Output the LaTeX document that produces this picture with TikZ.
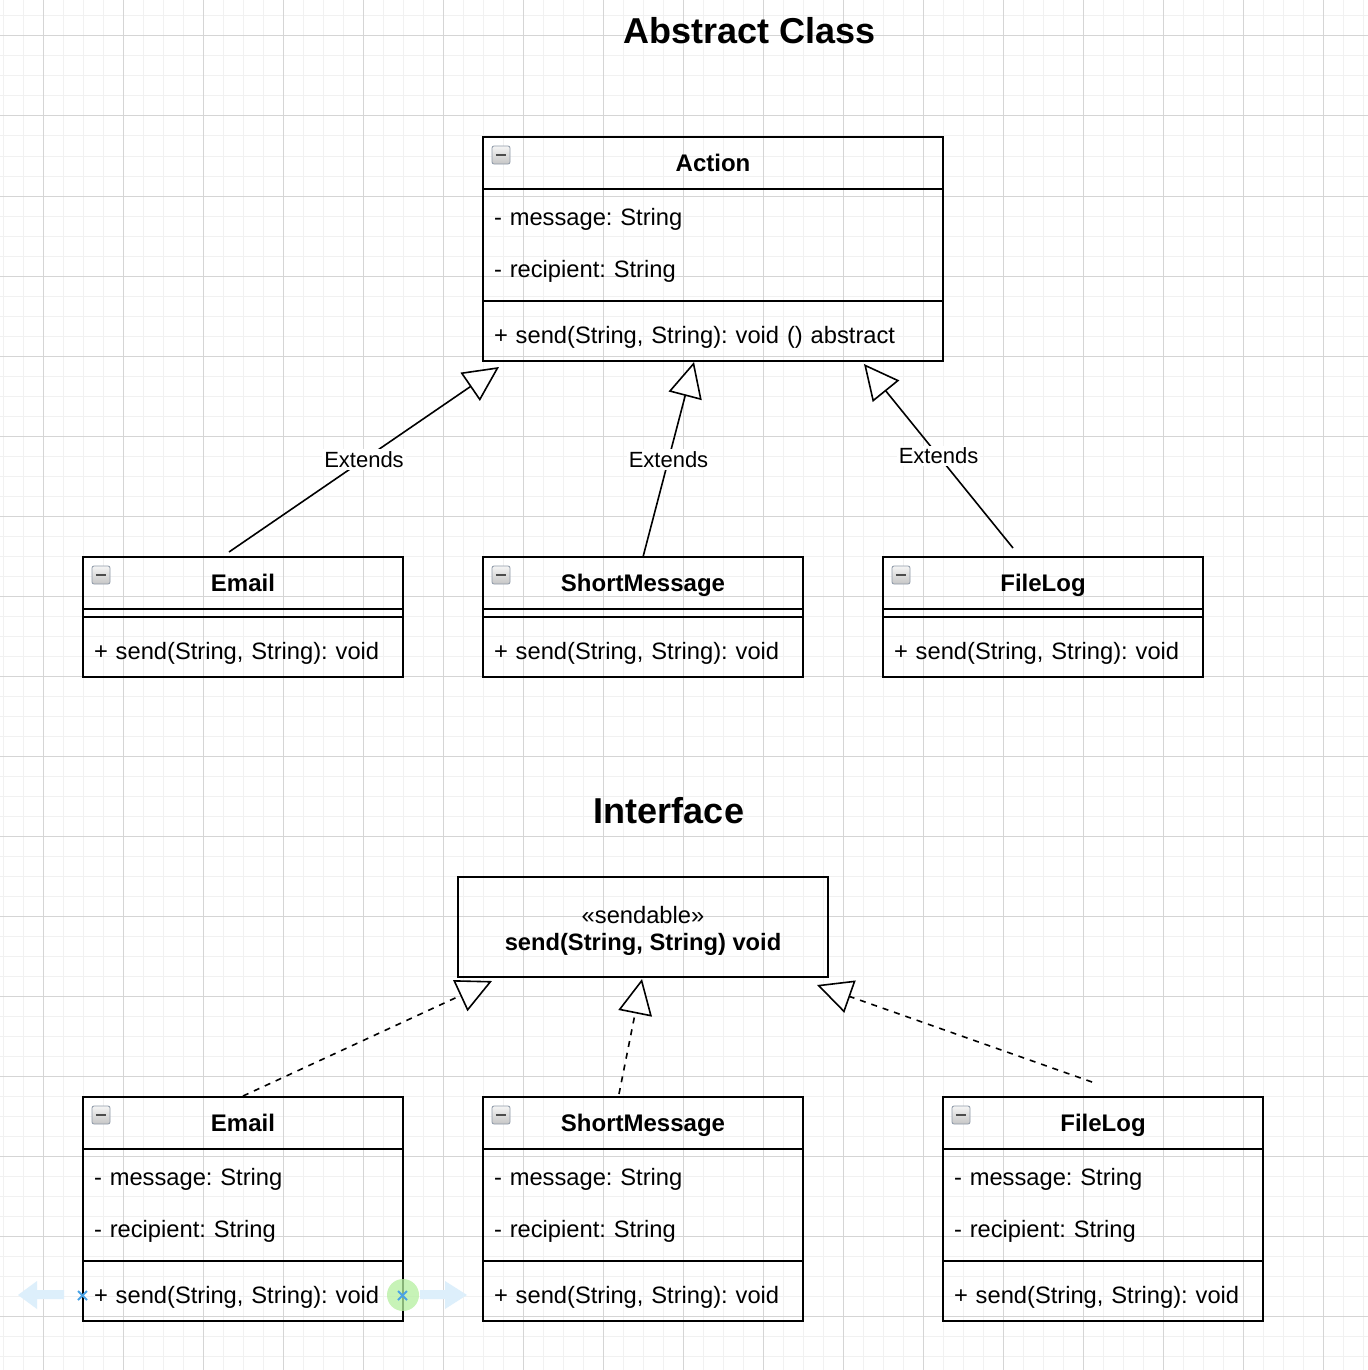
\documentclass[tikz,border=0pt]{standalone}
\usepackage{fontspec}
\setmainfont{Liberation Sans}
\usepackage{xcolor}
\usetikzlibrary{arrows.meta}
\frenchspacing

\definecolor{gridminor}{HTML}{F1F1F1}
\definecolor{gridmajor}{HTML}{D5D5D5}
\definecolor{iconedge}{HTML}{8E99A8}
\definecolor{hintblue}{HTML}{DDEFFB}
\definecolor{crossblue}{HTML}{4AA3E6}
\definecolor{dropgreen}{HTML}{B5EFA0}

\tikzset{
  umlbox/.style={draw, line width=1pt, anchor=north west, inner sep=0pt, outer sep=0pt, font=\fontsize{11.85}{14}\selectfont},
  umlname/.style={umlbox, minimum width=#1, minimum height=26pt, font=\fontsize{12}{14}\selectfont\bfseries, text height=8.6pt, text depth=0pt},
  umlgap/.style={umlbox, minimum width=#1, minimum height=4pt},
  umlattr/.style={umlbox, text width=#1, inner xsep=5.5pt, minimum height=56pt, align=left, font=\fontsize{11.85}{26}\selectfont},
  umlmeth/.style={umlbox, text width=#1, inner xsep=5.5pt, minimum height=30pt, align=left, text height=14pt, text depth=2pt},
  collapse/.style={draw=iconedge, line width=0.4pt, top color=gray!8, bottom color=gray!45, rounded corners=1pt, minimum size=9pt, inner sep=0pt, outer sep=0pt, anchor=north west,
    path picture={\draw[line width=1.2pt, black!70] ([xshift=-2.6pt]path picture bounding box.center) -- ([xshift=2.6pt]path picture bounding box.center);}},
  extends/.style={line width=0.8pt, -{Triangle[open, length=17.5pt, width=17pt, fill=white]}},
  realizes/.style={extends, dash pattern=on 3pt off 3pt},
  lbl/.style={fill=white, inner sep=1pt, font=\fontsize{11}{13}\selectfont},
  heading/.style={font=\fontsize{18}{22}\selectfont\bfseries},
}

\begin{document}
\begin{tikzpicture}[x=0.5pt,y=0.5pt,yscale=-1,xscale=1]
\useasboundingbox (0,0) rectangle (1368,1370);
\fill[white] (0,0) rectangle (1368,1370);
\foreach \gx in {3,23,...,1363} \draw[gridminor, line width=0.5pt] (\gx,0) -- (\gx,1370);
\foreach \gy in {16,36,...,1356} \draw[gridminor, line width=0.5pt] (0,\gy) -- (1368,\gy);
\foreach \gx in {43,123,...,1323} \draw[gridmajor, line width=0.5pt] (\gx,0) -- (\gx,1370);
\foreach \gy in {36,116,...,1316} \draw[gridmajor, line width=0.5pt] (0,\gy) -- (1368,\gy);

\node[heading] (title-abstract) at (750,31) {Abstract Class};
\node[heading] (title-interface) at (669,811) {Interface};

\node[umlname=230pt] (action) at (483,137) {Action};
\node[umlattr=219pt] (action-attr) at (action.south west) {- message: String\\- recipient: String};
\node[umlmeth=219pt] (action-meth) at (action-attr.south west) {+ send(String, String): void () abstract};
\node[collapse] (action-icon) at ([shift={(9,9)}]action.north west) {};

\node[umlname=160pt] (email) at (83,557) {Email};
\node[umlgap=160pt] (email-gap) at (email.south west) {};
\node[umlmeth=149pt] (email-meth) at (email-gap.south west) {+ send(String, String): void};
\node[collapse] (email-icon) at ([shift={(9,9)}]email.north west) {};

\node[umlname=160pt] (shortmsg) at (483,557) {ShortMessage};
\node[umlgap=160pt] (shortmsg-gap) at (shortmsg.south west) {};
\node[umlmeth=149pt] (shortmsg-meth) at (shortmsg-gap.south west) {+ send(String, String): void};
\node[collapse] (shortmsg-icon) at ([shift={(9,9)}]shortmsg.north west) {};

\node[umlname=160pt] (filelog) at (883,557) {FileLog};
\node[umlgap=160pt] (filelog-gap) at (filelog.south west) {};
\node[umlmeth=149pt] (filelog-meth) at (filelog-gap.south west) {+ send(String, String): void};
\node[collapse] (filelog-icon) at ([shift={(9,9)}]filelog.north west) {};

\coordinate (email-up) at ([shift={(-14,-5)}]email.north);
\coordinate (shortmsg-up) at (shortmsg.north);
\coordinate (filelog-up) at ([shift={(-30,-9)}]filelog.north);
\coordinate (action-in1) at ([shift={(16,6)}]action-meth.south west);
\coordinate (action-in2) at ([shift={(-19,1)}]action-meth.south);
\coordinate (action-in3) at ([shift={(-79,3)}]action-meth.south east);
\draw[extends] (email-up) -- node[lbl] (ext-email) {Extends} (action-in1);
\draw[extends] (shortmsg-up) -- node[lbl] (ext-shortmsg) {Extends} (action-in2);
\draw[extends] (filelog-up) -- node[lbl] (ext-filelog) {Extends} (action-in3);

\node[umlbox, minimum width=185pt, minimum height=50pt, align=center, text height=26.3pt, text depth=2.5pt, font=\fontsize{11.85}{13.5}\selectfont] (sendable) at (458,877) {«sendable»\\\textbf{send(String, String) void}};

\node[umlname=160pt] (iemail) at (83,1097) {Email};
\node[umlattr=149pt] (iemail-attr) at (iemail.south west) {- message: String\\- recipient: String};
\node[umlmeth=149pt] (iemail-meth) at (iemail-attr.south west) {+ send(String, String): void};
\node[collapse] (iemail-icon) at ([shift={(9,9)}]iemail.north west) {};

\node[umlname=160pt] (ishortmsg) at (483,1097) {ShortMessage};
\node[umlattr=149pt] (ishortmsg-attr) at (ishortmsg.south west) {- message: String\\- recipient: String};
\node[umlmeth=149pt] (ishortmsg-meth) at (ishortmsg-attr.south west) {+ send(String, String): void};
\node[collapse] (ishortmsg-icon) at ([shift={(9,9)}]ishortmsg.north west) {};

\node[umlname=160pt] (ifilelog) at (943,1097) {FileLog};
\node[umlattr=149pt] (ifilelog-attr) at (ifilelog.south west) {- message: String\\- recipient: String};
\node[umlmeth=149pt] (ifilelog-meth) at (ifilelog-attr.south west) {+ send(String, String): void};
\node[collapse] (ifilelog-icon) at ([shift={(9,9)}]ifilelog.north west) {};

\coordinate (iemail-up) at ([shift={(0,-1)}]iemail.north);
\coordinate (ishortmsg-up) at ([shift={(-24,-3)}]ishortmsg.north);
\coordinate (ifilelog-up) at ([shift={(-11,-15)}]ifilelog.north);
\coordinate (sendable-in1) at ([shift={(34,4)}]sendable.south west);
\coordinate (sendable-in2) at ([shift={(-1,2)}]sendable.south);
\coordinate (sendable-in3) at ([shift={(-11,8)}]sendable.south east);
\draw[realizes] (iemail-up) -- (sendable-in1);
\draw[realizes] (ishortmsg-up) -- (sendable-in2);
\draw[realizes] (ifilelog-up) -- (sendable-in3);

\fill[hintblue] (18,1295) -- (37,1281) -- (37,1290) -- (64,1290) -- (64,1299) -- (37,1299) -- (37,1309) -- cycle;
\fill[hintblue] (467,1295) -- (445,1281) -- (445,1290) -- (420,1290) -- (420,1299) -- (445,1299) -- (445,1309) -- cycle;
\fill[dropgreen, opacity=0.75] (403,1295) circle (16);
\draw[crossblue, line width=0.9pt] (78,1291) -- (87,1300) (78,1300) -- (87,1291);
\draw[crossblue, line width=0.9pt] (398,1291) -- (407,1300) (398,1300) -- (407,1291);
\end{tikzpicture}
\end{document}
